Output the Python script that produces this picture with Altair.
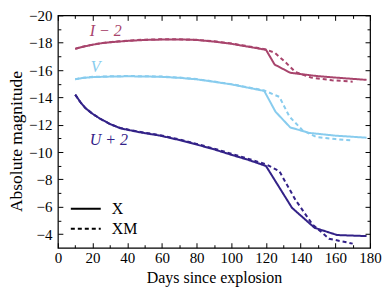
import altair as alt
import pandas as pd

# ---- data ----
bands = ["I", "V", "U"]
band_colors = ["#A8446C", "#88CCEE", "#332288"]
models = ["X", "XM"]

I_X_days = [10, 15, 20, 25, 30, 40, 50, 60, 70, 80, 90, 100, 110, 120, 125, 134, 150, 165, 178]
I_X_mag = [-17.55, -17.72, -17.85, -17.96, -18.03, -18.13, -18.2, -18.23, -18.24, -18.2, -18.08, -17.92, -17.7, -17.48, -16.4, -15.8, -15.55, -15.4, -15.28]
I_XM_days = [10, 15, 20, 25, 30, 40, 50, 60, 70, 80, 90, 100, 110, 120, 125, 131, 137, 146, 158, 170]
I_XM_mag = [-17.55, -17.72, -17.86, -17.97, -18.04, -18.15, -18.22, -18.25, -18.25, -18.21, -18.1, -17.95, -17.73, -17.5, -17.27, -16.6, -15.85, -15.45, -15.25, -15.15]

V_X_days = [10, 15, 20, 30, 40, 50, 60, 70, 80, 90, 100, 110, 119, 125.5, 134, 145, 160, 178]
V_X_mag = [-15.33, -15.43, -15.48, -15.52, -15.54, -15.53, -15.5, -15.43, -15.32, -15.14, -14.95, -14.7, -14.47, -12.95, -11.8, -11.4, -11.2, -11.05]
V_XM_days = [10, 15, 20, 30, 40, 50, 60, 70, 80, 90, 100, 110, 119, 127.7, 133.5, 141, 149, 160, 169]
V_XM_mag = [-15.33, -15.44, -15.5, -15.54, -15.56, -15.55, -15.52, -15.45, -15.34, -15.16, -14.97, -14.73, -14.5, -14.04, -12.6, -11.6, -11.1, -10.95, -10.85]

U_X_days = [10, 13, 16, 20, 24, 30, 36, 47, 59, 70, 80, 90, 100, 110, 120, 135, 148, 161, 178]
U_X_mag = [-14.2, -13.65, -13.2, -12.8, -12.47, -12.05, -11.74, -11.45, -11.2, -10.88, -10.55, -10.2, -9.8, -9.42, -8.98, -5.92, -4.46, -3.93, -3.85]
U_XM_days = [10, 13, 16, 20, 24, 30, 36, 47, 59, 70, 80, 90, 100, 110, 120, 127.7, 137, 146.8, 156.4, 170]
U_XM_mag = [-14.2, -13.65, -13.2, -12.8, -12.47, -12.05, -11.76, -11.48, -11.23, -10.92, -10.6, -10.25, -9.88, -9.5, -9.1, -8.6, -6.5, -4.7, -3.66, -3.3]

label_text = ["I − 2", "V", "U + 2"]
label_band = ["I", "V", "U"]
label_day = [18.4, 19.0, 18.4]
label_mag = [-18.88, -16.2, -10.88]

x_major = [0, 20, 40, 60, 80, 100, 120, 140, 160, 180]
x_minor = list(range(10, 180, 20))
y_major = list(range(-20, -3, 2))
y_minor = list(range(-19, -3, 2))

series = [
    ("I", "X", I_X_days, I_X_mag), ("I", "XM", I_XM_days, I_XM_mag),
    ("V", "X", V_X_days, V_X_mag), ("V", "XM", V_XM_days, V_XM_mag),
    ("U", "X", U_X_days, U_X_mag), ("U", "XM", U_XM_days, U_XM_mag),
]
rows = []
for b, m, ds, ms in series:
    for i, (d, v) in enumerate(zip(ds, ms)):
        rows.append({"band": b, "model": m, "day": d, "mag": v, "i": i})
df = pd.DataFrame(rows)
labels_df = pd.DataFrame({"text": label_text, "band": label_band, "day": label_day, "mag": label_mag})

FONT = "Liberation Serif, Times New Roman, serif"
x_scale = alt.Scale(domain=[0, 180], nice=False, zero=False)
y_scale = alt.Scale(domain=[-20, -3], nice=False, zero=False, reverse=True)


def tick_axis(orient, values, size):
    return alt.Axis(orient=orient, values=values, tickSize=size, offset=-size,
                    domain=False, grid=False, labels=False, title=None,
                    tickColor="black", tickWidth=1)


# labelled axes carry no ticks and no offset; all ticks come from tick-only axes
lines = alt.Chart(df).mark_line(strokeWidth=2, clip=True).encode(
    x=alt.X("day:Q", scale=x_scale,
            axis=alt.Axis(orient="bottom", values=x_major, format="d", ticks=False,
                          domain=False, grid=False, labelPadding=3,
                          labelFlush=False, labelOverlap=False,
                          labelFont=FONT, labelFontSize=15, labelColor="black",
                          title="Days since explosion", titlePadding=4,
                          titleFont=FONT, titleFontSize=16, titleColor="black",
                          titleFontWeight="normal")),
    y=alt.Y("mag:Q", scale=y_scale,
            axis=alt.Axis(orient="left", values=y_major, ticks=False,
                          domain=False, grid=False, labelPadding=6,
                          labelFlush=False, labelOverlap=False,
                          labelFont=FONT, labelFontSize=15, labelColor="black",
                          title="Absolute magnitude", titlePadding=3,
                          titleFont=FONT, titleFontSize=17.5, titleColor="black",
                          titleFontWeight="normal", titleY=126)),
    color=alt.Color("band:N", scale=alt.Scale(domain=bands, range=band_colors), legend=None),
    strokeDash=alt.StrokeDash("model:N", scale=alt.Scale(domain=models, range=[[1, 0], [4, 3]]),
                              legend=alt.Legend(orient="none", legendX=17, legendY=183, title=None,
                                                symbolType="M-1.5,0H1.5", symbolSize=400,
                                                symbolStrokeWidth=2, symbolStrokeColor="black",
                                                labelFont=FONT, labelFontSize=16, labelColor="black",
                                                labelOffset=15, rowPadding=1, padding=0)),
    order="i:Q",
)

ghost = alt.Chart(df).mark_line(opacity=0)

major_bl = ghost.encode(
    x=alt.X("day:Q", scale=x_scale, axis=tick_axis("bottom", x_major, 5)),
    y=alt.Y("mag:Q", scale=y_scale, axis=tick_axis("left", y_major, 5)),
    detail="band:N",
)
minor_bl = ghost.encode(
    x=alt.X("day:Q", scale=x_scale, axis=tick_axis("bottom", x_minor, 3)),
    y=alt.Y("mag:Q", scale=y_scale, axis=tick_axis("left", y_minor, 3)),
    detail="band:N",
)
major_tr = ghost.encode(
    x=alt.X("day:Q", scale=x_scale, axis=tick_axis("top", x_major, 5)),
    y=alt.Y("mag:Q", scale=y_scale, axis=tick_axis("right", y_major, 5)),
    detail="band:N",
)
minor_tr = ghost.encode(
    x=alt.X("day:Q", scale=x_scale, axis=tick_axis("top", x_minor, 3)),
    y=alt.Y("mag:Q", scale=y_scale, axis=tick_axis("right", y_minor, 3)),
    detail="band:N",
)

texts = alt.Chart(labels_df).mark_text(font=FONT, fontSize=16, fontStyle="italic",
                                       align="left", baseline="middle").encode(
    x=alt.X("day:Q", scale=x_scale, axis=None),
    y=alt.Y("mag:Q", scale=y_scale, axis=None),
    text="text:N",
    color=alt.Color("band:N", scale=alt.Scale(domain=bands, range=band_colors), legend=None),
)

chart = alt.layer(lines, major_bl, minor_bl, major_tr, minor_tr, texts).resolve_axis(
    x="independent", y="independent"
).properties(
    width=313, height=233,
    autosize=alt.AutoSizeParams(type="none"),
    padding={"left": 50, "top": 7, "right": 12, "bottom": 40},
).configure_view(
    stroke="black", strokeWidth=1.2
)

chart.save("out.html", embed_options={"renderer": "svg", "actions": False})
